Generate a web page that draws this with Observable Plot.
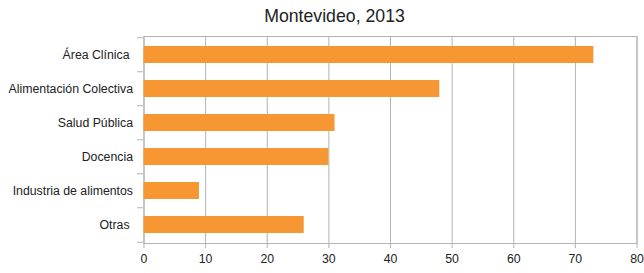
<!DOCTYPE html>
<html><head><meta charset="utf-8">
<script src="https://cdn.jsdelivr.net/npm/d3@7"></script>
<script src="https://cdn.jsdelivr.net/npm/@observablehq/plot@0.6"></script>
<style>body{margin:0;background:#fff} svg text{white-space:pre}</style>
</head><body><div id="chart"></div>
<script>
const title = "Montevideo, 2013";
const categories = ["Área Clínica ", "Alimentación Colectiva", "Salud Pública", "Docencia", "Industria de alimentos", "Otras "];
const values = [73, 48, 31, 30, 9, 26];
const xTicks = [0, 10, 20, 30, 40, 50, 60, 70, 80];

const data = categories.map((c, i) => ({category: c, value: values[i]}));
const W = 644, H = 273, mt = 36, mb = 30, ml = 143.5, mr = 7.5;
const band = (H - mt - mb) / categories.length;
const grid = "#b3b3b3";
const tickLen = 6.5 * 80 / (W - ml - mr);
const chart = Plot.plot({
  width: W, height: H, marginTop: mt, marginBottom: mb, marginLeft: ml, marginRight: mr,
  style: {fontFamily: "'Liberation Sans', Arial, sans-serif", fontSize: "12.3px", color: "#222", background: "#fff"},
  x: {domain: [0, 80], ticks: xTicks},
  y: {domain: categories, paddingInner: 0.49, paddingOuter: 0.245},
  marks: [
    Plot.gridX(xTicks, {stroke: grid, strokeOpacity: 1}),
    Plot.frame({stroke: grid}),
    Plot.barX(data, {x: "value", y: "category", fill: "#f79733"}),
    Plot.ruleY(categories, {y: d => d, x1: -tickLen, x2: 0, dy: -band / 2, stroke: grid}),
    Plot.ruleY([categories[categories.length - 1]], {y: d => d, x1: -tickLen, x2: 0, dy: band / 2, stroke: grid}),
    Plot.axisX(xTicks, {tickSize: 5, stroke: grid, tickPadding: 6, label: null, fill: "#222"}),
    Plot.axisY({tickSize: 0, tickPadding: 11, label: null, fill: "#222"}),
    Plot.text([title], {frameAnchor: "top", dx: -56, dy: -20, fontSize: 17.7, lineAnchor: "middle", fill: "#222"})
  ]
});
document.getElementById("chart").append(chart);
</script></body></html>
